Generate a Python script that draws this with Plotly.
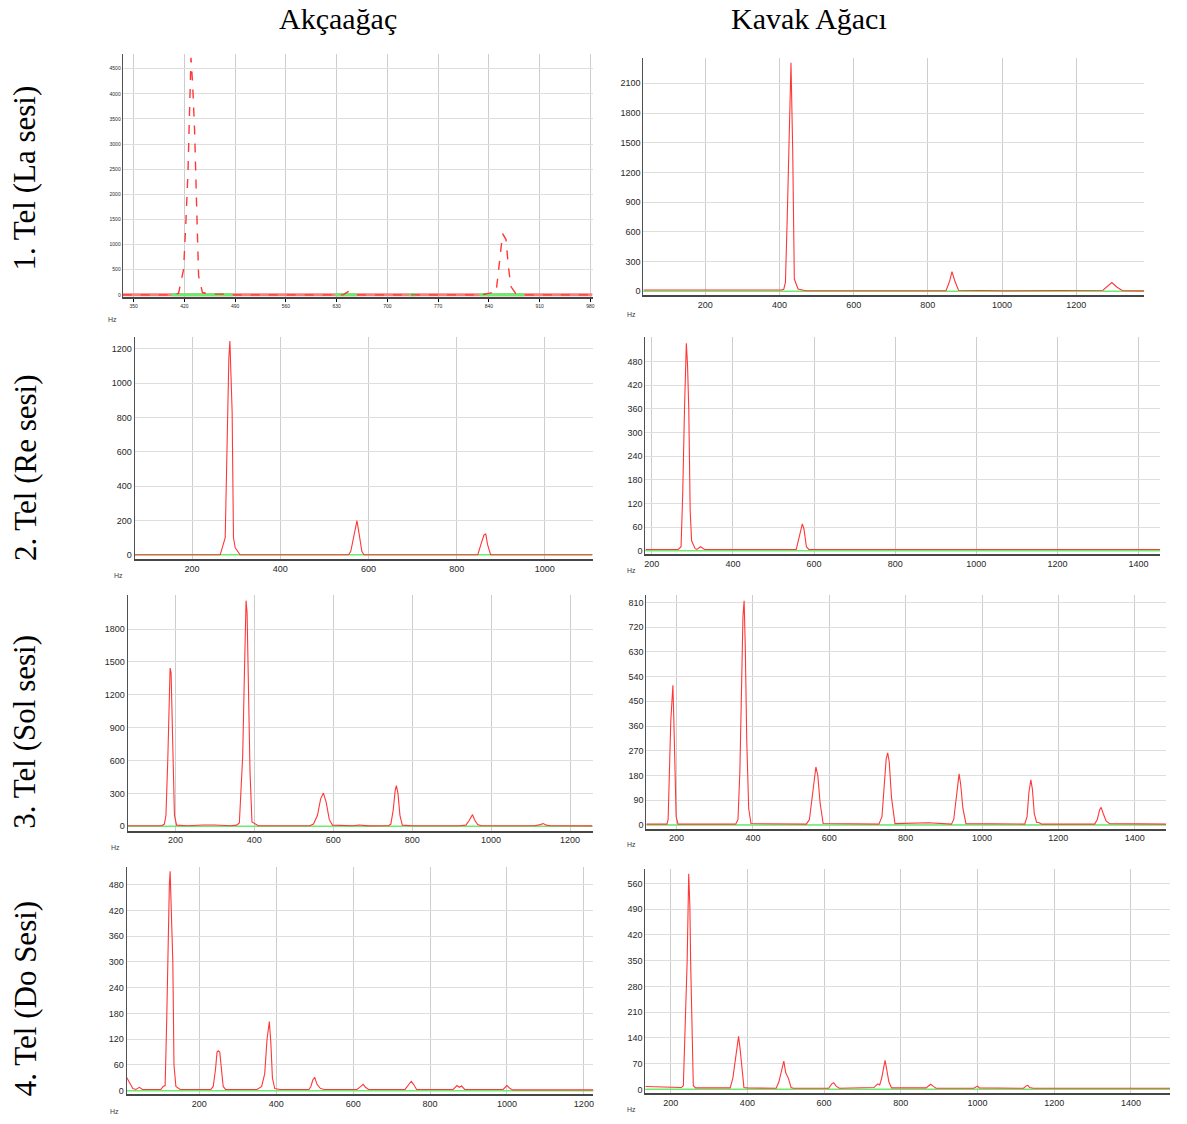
import plotly.graph_objects as go

W, H = 1187, 1124

# ---------------- data ----------------
col_titles = ["Akçaağaç", "Kavak Ağacı"]
row_titles = ["1. Tel (La sesi)", "2. Tel (Re sesi)", "3. Tel (Sol sesi)", "4. Tel (Do Sesi)"]

# Panel A1: Akçaağaç, La
a1_hz = [335, 405, 412, 419, 422.3, 425, 427, 429.2, 431.5, 434.2, 436.5, 438.3, 439.7, 445, 455, 470, 485,
         639, 646, 655, 829, 843, 850, 854.6, 859, 863.7, 866.9, 870.5, 877, 886, 983]
a1_amp = [0, 0, 30, 506, 1493, 2414, 3533, 4717, 4190, 3270, 2020, 1033, 375, 46, 15, 15, 0,
          0, 65, 0, 0, 40, 50, 638, 1217, 1100, 572, 164, 30, 0, 0]
a1_green = [[402, 487], [628, 658], [730, 740], [827, 889]]

# Panel K1: Kavak, La
k1_hz = [33, 120, 250, 405, 411.5, 416, 421, 426, 431, 435.6, 440, 450, 470, 600, 849, 858.6, 865, 873, 882.7,
         1000, 1272, 1296, 1310, 1325, 1383]
k1_amp = [12, 12, 12, 12, 20, 90, 757, 1557, 2307, 1423, 123, 23, 5, 4, 5, 100, 197, 100, 10,
          4, 10, 88, 40, 5, 3]

# Panel A2: Akçaağaç, Re
a2_hz = [70, 264, 275.3, 277.6, 282, 283.6, 285.9, 288, 291, 294, 298, 309, 555, 560, 567, 574, 579, 585, 590,
         848, 855, 862, 866, 870, 877, 1108]
a2_amp = [0, 0, 100, 400, 820, 1150, 1245, 1040, 830, 100, 40, 0, 0, 20, 100, 198, 120, 20, 0,
          0, 60, 115, 120, 60, 0, 0]

# Panel K2: Kavak, Re
k2_hz = [184, 265, 272, 276, 280.5, 283, 285, 288, 291, 294.5, 298, 306.7, 311, 320, 330,
         556, 562, 568, 571, 575, 581, 587, 1453]
k2_amp = [3, 3, 10, 140, 360, 480, 526, 470, 360, 100, 25, 5, 3, 10, 3,
          3, 30, 60, 68, 55, 10, 3, 3]

# Panel A3: Akçaağaç, Sol
a3_hz = [79, 120, 165, 172, 176, 180.6, 184.8, 186.5, 189, 193, 197.5, 203, 230, 270, 300, 340, 355,
         362, 370.5, 374.7, 377, 379, 381.6, 385, 389, 394, 410, 540, 550, 560, 568, 575, 582, 590, 598,
         650, 665, 690, 740, 746, 752, 757, 760, 764, 769, 775, 800, 920, 936, 944, 950, 953, 958, 966, 975,
         1110, 1125, 1132, 1140, 1150, 1257]
a3_amp = [5, 8, 5, 20, 100, 600, 1200, 1445, 1400, 700, 100, 10, 5, 12, 12, 5, 10,
          30, 642, 1370, 1950, 2060, 1950, 1300, 500, 40, 5, 5, 20, 100, 250, 303, 220, 60, 10,
          5, 12, 3, 5, 20, 150, 330, 370, 300, 100, 10, 5, 5, 10, 50, 95, 106, 60, 15, 5,
          5, 15, 25, 10, 5, 3]

# Panel K3: Kavak, Sol
k3_hz = [121, 175, 178, 182, 185, 188, 190.5, 193, 196, 199, 204, 285, 290,
         355, 361, 366, 370, 374, 377, 380, 384, 389, 395, 540, 548, 555, 561, 565, 570, 576, 584,
         730, 738, 744, 749, 753, 757, 763, 772, 860, 920, 926, 932, 937, 940, 944, 950, 958,
         1112, 1118, 1123, 1128, 1132, 1137, 1143, 1150, 1156, 1295, 1302, 1308, 1312, 1318, 1325, 1334, 1482]
k3_amp = [3, 3, 20, 250, 380, 450, 508, 380, 200, 30, 3, 5, 3,
          3, 20, 200, 500, 760, 816, 650, 300, 60, 5, 3, 20, 100, 180, 211, 180, 80, 5,
          3, 30, 150, 240, 262, 230, 100, 5, 8, 3, 20, 100, 170, 186, 150, 60, 5,
          3, 30, 120, 164, 130, 40, 10, 8, 3, 3, 20, 55, 64, 40, 15, 5, 3]

# Panel A4: Akçaağaç, Do
a4_hz = [11, 18, 27, 35, 44, 52, 100, 106, 111, 115, 119, 122, 124, 126, 128, 131, 134, 139, 150,
         230, 236, 242, 246, 249, 253, 257, 262, 268, 350, 362, 370, 376, 382, 386, 390, 396, 410,
         485, 490, 495, 500, 506, 515, 525, 610, 620, 626, 632, 640, 735, 745, 751, 757, 765,
         860, 870, 876, 882, 890, 990, 1000, 1008, 1015, 1225]
a4_amp = [31, 20, 5, 3, 8, 3, 3, 10, 12, 160, 390, 480, 511, 460, 390, 300, 60, 10, 3,
          3, 10, 50, 90, 93, 90, 50, 10, 3, 3, 10, 40, 120, 161, 110, 30, 5, 3,
          3, 10, 25, 31, 15, 5, 3, 3, 10, 15, 8, 3, 3, 15, 22, 15, 3,
          3, 12, 8, 11, 3, 3, 12, 5, 2, 2]

# Panel K4: Kavak, Do
k4_hz = [134, 180, 228, 233, 238, 243, 247, 250, 252, 255, 259, 265, 355, 362, 368, 374, 377, 381, 386, 391, 400,
         475, 482, 488, 495, 500, 507, 514, 520, 612, 620, 625, 632, 640, 730, 740, 745, 750, 755, 759, 764, 769, 776,
         866, 873, 878, 885, 892, 990, 1000, 1005, 1120, 1128, 1131, 1136, 1145, 1502]
k4_amp = [8, 6, 5, 10, 200, 350, 586, 500, 350, 170, 10, 4, 4, 30, 80, 130, 144, 110, 50, 5, 4,
          3, 20, 50, 77, 45, 30, 5, 3, 3, 15, 18, 8, 3, 5, 15, 12, 30, 60, 79, 50, 20, 4,
          4, 10, 14, 8, 3, 3, 9, 4, 3, 10, 11, 5, 3, 3]

# tick values
a1_xt = [350, 420, 490, 560, 630, 700, 770, 840, 910, 980]
a1_yt = [0, 500, 1000, 1500, 2000, 2500, 3000, 3500, 4000, 4500]
k1_xt = [200, 400, 600, 800, 1000, 1200]
k1_yt = [0, 300, 600, 900, 1200, 1500, 1800, 2100]
a2_xt = [200, 400, 600, 800, 1000]
a2_yt = [0, 200, 400, 600, 800, 1000, 1200]
k2_xt = [200, 400, 600, 800, 1000, 1200, 1400]
k2_yt = [0, 60, 120, 180, 240, 300, 360, 420, 480]
a3_xt = [200, 400, 600, 800, 1000, 1200]
a3_yt = [0, 300, 600, 900, 1200, 1500, 1800]
k3_xt = [200, 400, 600, 800, 1000, 1200, 1400]
k3_yt = [0, 90, 180, 270, 360, 450, 540, 630, 720, 810]
a4_xt = [200, 400, 600, 800, 1000, 1200]
a4_yt = [0, 60, 120, 180, 240, 300, 360, 420, 480]
k4_xt = [200, 400, 600, 800, 1000, 1200, 1400]
k4_yt = [0, 70, 140, 210, 280, 350, 420, 490, 560]

# ---------------- layout (pixel boxes of each plot area) ----------------
panels = [
    dict(hz=a1_hz, amp=a1_amp, xt=a1_xt, yt=a1_yt, box=(122, 54, 593, 298), xr=(335, 983), yr=(-52, 4795), hz_lbl=(112, 320)),
    dict(hz=k1_hz, amp=k1_amp, xt=k1_xt, yt=k1_yt, box=(644, 58, 1146, 296), xr=(33, 1383), yr=(-43, 2357), hz_lbl=(632, 315)),
    dict(hz=a2_hz, amp=a2_amp, xt=a2_xt, yt=a2_yt, box=(134, 338, 593, 560), xr=(70, 1108), yr=(-25, 1266), hz_lbl=(118, 577)),
    dict(hz=k2_hz, amp=k2_amp, xt=k2_xt, yt=k2_yt, box=(646, 338, 1162, 555), xr=(184, 1453), yr=(-8.5, 541), hz_lbl=(632, 572)),
    dict(hz=a3_hz, amp=a3_amp, xt=a3_xt, yt=a3_yt, box=(127, 596, 593, 832), xr=(79, 1257), yr=(-39, 2112), hz_lbl=(115, 849)),
    dict(hz=k3_hz, amp=k3_amp, xt=k3_xt, yt=k3_yt, box=(647, 596, 1168, 830), xr=(121, 1482), yr=(-13, 837), hz_lbl=(632, 846)),
    dict(hz=a4_hz, amp=a4_amp, xt=a4_xt, yt=a4_yt, box=(126, 869, 594, 1096), xr=(11, 1225), yr=(-7.7, 520), hz_lbl=(114, 1113)),
    dict(hz=k4_hz, amp=k4_amp, xt=k4_xt, yt=k4_yt, box=(646, 871, 1172, 1095), xr=(134, 1502), yr=(-10, 598), hz_lbl=(632, 1111)),
]

RED = "rgb(255,55,55)"
GREEN = "rgb(110,235,110)"
SALMON = "rgb(245,130,130)"

fig = go.Figure()
layout = {}
annotations = []

for i, p in enumerate(panels):
    n = "" if i == 0 else str(i + 1)
    xa, ya = "x" + n, "y" + n
    x0, y0, x1, y1 = p["box"]
    tick_size = 5 if i == 0 else 9

    if i == 0:
        fig.add_trace(go.Scatter(x=[p["hz"][0], p["hz"][-1]], y=[0, 0], mode="lines",
                                 line=dict(color=SALMON, width=3), xaxis=xa, yaxis=ya,
                                 showlegend=False, hoverinfo="skip"))
        gx, gy = [], []
        for s, e in a1_green:
            gx += [s, e, None]
            gy += [0, 0, None]
        fig.add_trace(go.Scatter(x=gx, y=gy, mode="lines", line=dict(color=GREEN, width=3),
                                 xaxis=xa, yaxis=ya, showlegend=False, hoverinfo="skip"))
        fig.add_trace(go.Scatter(x=p["hz"], y=p["amp"], mode="lines",
                                 line=dict(color=RED, width=1.4, dash="dash"),
                                 xaxis=xa, yaxis=ya, showlegend=False))
    else:
        fig.add_trace(go.Scatter(x=[p["hz"][0], p["hz"][-1]], y=[0, 0], mode="lines",
                                 line=dict(color=GREEN, width=1.5), xaxis=xa, yaxis=ya,
                                 showlegend=False, hoverinfo="skip"))
        fig.add_trace(go.Scatter(x=p["hz"], y=p["amp"], mode="lines",
                                 line=dict(color=RED, width=1.1),
                                 xaxis=xa, yaxis=ya, showlegend=False))

    layout["xaxis" + n] = dict(
        domain=[x0 / W, x1 / W], anchor=ya, range=list(p["xr"]),
        tickmode="array", tickvals=p["xt"], ticktext=[str(v) for v in p["xt"]],
        showgrid=True, gridcolor="rgb(205,205,205)", gridwidth=1,
        showline=True, linecolor="rgb(70,70,70)", linewidth=1.5,
        ticks="outside" if i == 0 else "", ticklen=3, tickcolor="black",
        tickfont=dict(family="Arial, Liberation Sans", size=tick_size, color="rgb(40,40,40)"),
        zeroline=False, fixedrange=True,
    )
    layout["yaxis" + n] = dict(
        domain=[1 - y1 / H, 1 - y0 / H], anchor=xa, range=list(p["yr"]),
        tickmode="array", tickvals=p["yt"], ticktext=[str(v) for v in p["yt"]],
        showgrid=True, gridcolor="rgb(222,222,222)", gridwidth=1,
        showline=True, linecolor="rgb(80,80,80)", linewidth=1,
        ticks="", tickfont=dict(family="Arial, Liberation Sans", size=tick_size, color="rgb(40,40,40)"),
        zeroline=False, fixedrange=True,
    )
    hx, hy = p["hz_lbl"]
    annotations.append(dict(text="Hz", x=hx / W, y=1 - hy / H, xref="paper", yref="paper",
                            showarrow=False, xanchor="center", yanchor="middle",
                            font=dict(family="Arial, Liberation Sans", size=7, color="rgb(60,60,60)")))

for txt, cx in zip(col_titles, [338, 810]):
    annotations.append(dict(text=txt, x=cx / W, y=1 - 19 / H, xref="paper", yref="paper",
                            showarrow=False, xanchor="center", yanchor="middle",
                            font=dict(family="Liberation Serif, Times New Roman, serif", size=30, color="black")))
for txt, cy in zip(row_titles, [178, 468, 733, 1000]):
    annotations.append(dict(text=txt, x=24 / W, y=1 - cy / H, xref="paper", yref="paper",
                            showarrow=False, xanchor="center", yanchor="middle", textangle=-90,
                            font=dict(family="Liberation Serif, Times New Roman, serif", size=31, color="black")))

fig.update_layout(
    width=W, height=H, margin=dict(l=0, r=0, t=0, b=0),
    paper_bgcolor="white", plot_bgcolor="white",
    showlegend=False, annotations=annotations, **layout,
)

fig.write_html("out.html", config={"displayModeBar": False},
               post_script="document.body.style.margin='0';document.body.style.overflow='hidden';")
